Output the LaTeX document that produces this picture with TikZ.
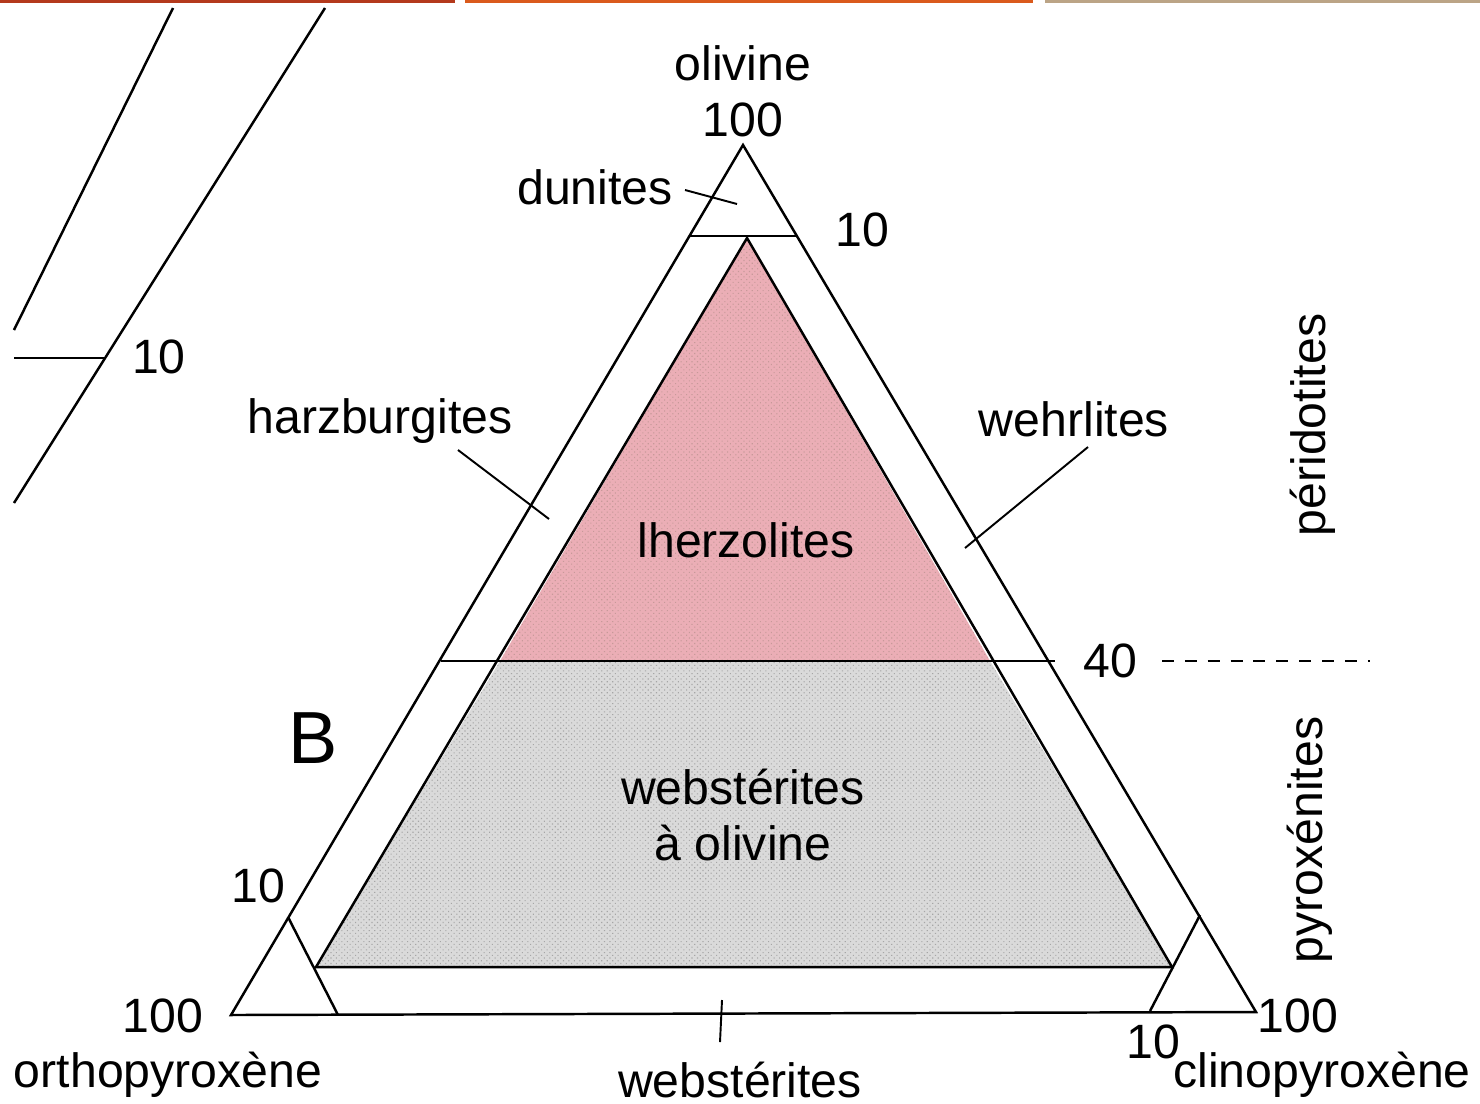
\documentclass[tikz,border=0pt]{standalone}
\usepackage{fontspec}
\setmainfont{Liberation Sans}
\usetikzlibrary{patterns.meta}

\definecolor{lherzpink}{HTML}{EBAEB6}
\definecolor{webgray}{HTML}{DADADA}
\definecolor{barred}{HTML}{B4391C}
\definecolor{barorange}{HTML}{DA5A1C}
\definecolor{bartan}{HTML}{BBA486}

\begin{document}
\begin{tikzpicture}[x=0.01cm, y=-0.01cm,
    edge/.style={line width=0.7pt},
    leader/.style={line width=0.55pt},
    lbl/.style={inner sep=0pt, font=\fontsize{13.7}{16}\selectfont},
    dots/.style={pattern={Dots[distance=1.1pt, radius=0.22pt, angle=45]}, pattern color=#1}]
    \useasboundingbox (0,0) rectangle (1480,1103);

    % Top bars
    \fill[barred] (0,0) rectangle (455,3);
    \fill[barorange] (465,0) rectangle (1033,3);
    \fill[bartan] (1045,0) rectangle (1480,3);

    % Corners of the triangle
    \coordinate (ol) at (743,145);
    \coordinate (opx) at (231,1015);
    \coordinate (cpx) at (1256,1012);

    % Fields
    \coordinate (lzTop) at (747,238);
    \coordinate (lzL) at (500,661);
    \coordinate (lzR) at (990,661);
    \coordinate (wbL) at (316,967);
    \coordinate (wbR) at (1172,967);
    \fill[lherzpink] (lzTop) -- (lzL) -- (lzR) -- cycle;
    \fill[dots=red!45!black!40] (lzTop) -- (lzL) -- (lzR) -- cycle;
    \fill[webgray] (lzL) -- (lzR) -- (wbR) -- (wbL) -- cycle;
    \fill[dots=black!35] (lzL) -- (lzR) -- (wbR) -- (wbL) -- cycle;

    % Outline and limits
    \draw[edge] (ol) -- (opx) -- (cpx) -- cycle;
    \draw[edge] (690,236) -- (797,236);
    \draw[edge] (441,661) -- (1055,661);
    \draw[edge] (lzTop) -- (wbL) -- (wbR) -- cycle;
    \draw[edge] (288,917) -- (338,1015);
    \draw[edge] (1200,915) -- (1150,1011);

    % Cut lines at the left
    \draw[edge] (173,8) -- (14,330);
    \draw[edge] (325,8) -- (14,503);
    \draw[edge] (14,358) -- (105,358);
    \node[lbl] (tenCut) at (159,357) {10};

    % Corner labels
    \node[lbl] (olName) at (743,63) {olivine};
    \node[lbl] (olHund) at (743,120) {100};
    \node[lbl] (opxHund) at (163,1016) {100};
    \node[lbl] (opxName) at (168,1075) {orthopyroxène};
    \node[lbl] (cpxHund) at (1298,1016) {100};
    \node[lbl] (cpxName) at (1322,1075) {clinopyroxène};

    % Ticks
    \node[lbl] (tenTop) at (862,230) {10};
    \node[lbl] (tenLeft) at (258,886) {10};
    \node[lbl] (tenBase) at (1153,1042) {10};
    \node[lbl] (forty) at (1110,661) {40};
    \draw[line width=0.5pt, dash pattern=on 3.4pt off 3.1pt] (1162,661) -- (1370,661);

    % Rock names
    \node[lbl] (dun) at (595,187) {dunites};
    \coordinate (dunA) at (685,190);
    \coordinate (dunB) at (737,204);
    \draw[leader] (dunA) -- (dunB);

    \node[lbl] (harz) at (380,421) {harzburgites};
    \coordinate (harzA) at (458,450);
    \coordinate (harzB) at (549,519);
    \draw[leader] (harzA) -- (harzB);

    \node[lbl] (wehr) at (1074,419) {wehrlites};
    \coordinate (wehrA) at (1088,447);
    \coordinate (wehrB) at (965,548);
    \draw[leader] (wehrA) -- (wehrB);

    \node[lbl] (lherz) at (746,540) {lherzolites};
    \node[lbl, align=center] (wbOl) at (743,815) {webstérites\\à olivine};

    \node[lbl] (wb) at (740,1080) {webstérites};
    \coordinate (wbA) at (722,1000);
    \coordinate (wbB) at (720,1042);
    \draw[leader] (wbA) -- (wbB);

    \node[lbl, rotate=90] (peri) at (1313,425) {péridotites};
    \node[lbl, rotate=90] (pyro) at (1310,840) {pyroxénites};

    \node[inner sep=0pt, font=\fontsize{21}{24}\selectfont] (figB) at (313,738) {B};
\end{tikzpicture}
\end{document}
